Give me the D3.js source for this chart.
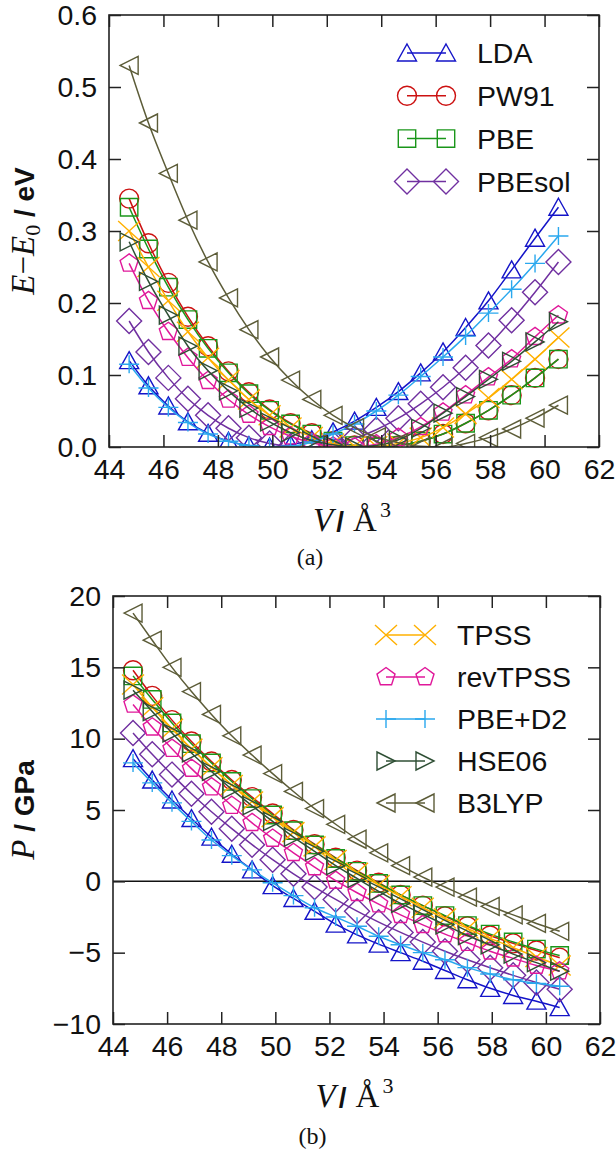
<!DOCTYPE html>
<html>
<head>
<meta charset="utf-8">
<script src="https://cdn.jsdelivr.net/npm/d3@7"></script>
<style>
    body { margin: 0; background: #fff; }
    svg text { font-family: "Liberation Sans", Arial, sans-serif; fill: #111; }
</style>
</head>
<body>
<svg id="chart" width="616" height="1155"></svg>
<script>
// volumes (A^3) shared by every method
const volumes = [44.74, 45.45, 46.18, 46.90, 47.64, 48.39, 49.14, 49.90, 50.67, 51.45, 52.23,
                 53.02, 53.82, 54.63, 55.45, 56.27, 57.10, 57.94, 58.79, 59.65, 60.51];

const methods = ['LDA', 'PW91', 'PBE', 'PBEsol', 'TPSS', 'revTPSS', 'PBE+D2', 'HSE06', 'B3LYP'];
const topLegend = ['LDA', 'PW91', 'PBE', 'PBEsol'];
const bottomLegend = ['TPSS', 'revTPSS', 'PBE+D2', 'HSE06', 'B3LYP'];

// E - E0 (eV)
const energyLDA     = [0.120, 0.085, 0.057, 0.035, 0.019, 0.008, 0.002, 0.000, 0.003, 0.010, 0.021, 0.036, 0.055, 0.077, 0.103, 0.132, 0.166, 0.203, 0.246, 0.290, 0.333];
const energyPW91    = [0.345, 0.283, 0.228, 0.181, 0.140, 0.105, 0.076, 0.052, 0.033, 0.019, 0.008, 0.002, 0.000, 0.002, 0.008, 0.018, 0.033, 0.051, 0.072, 0.096, 0.122];
const energyPBE     = [0.333, 0.275, 0.222, 0.177, 0.137, 0.103, 0.074, 0.051, 0.032, 0.018, 0.008, 0.002, 0.000, 0.002, 0.008, 0.018, 0.033, 0.051, 0.072, 0.096, 0.122];
const energyPBEsol  = [0.175, 0.132, 0.096, 0.067, 0.044, 0.026, 0.013, 0.005, 0.001, 0.000, 0.004, 0.012, 0.024, 0.040, 0.060, 0.083, 0.110, 0.141, 0.176, 0.215, 0.257];
const energyTPSS    = [0.300, 0.250, 0.203, 0.160, 0.124, 0.093, 0.066, 0.044, 0.027, 0.014, 0.005, 0.001, 0.001, 0.005, 0.013, 0.027, 0.046, 0.068, 0.094, 0.122, 0.152];
const energyRevTPSS = [0.255, 0.203, 0.160, 0.124, 0.092, 0.066, 0.045, 0.028, 0.015, 0.006, 0.001, 0.000, 0.004, 0.013, 0.028, 0.048, 0.072, 0.097, 0.122, 0.153, 0.183];
const energyPBED2   = [0.115, 0.082, 0.055, 0.034, 0.018, 0.008, 0.002, 0.000, 0.001, 0.007, 0.018, 0.032, 0.050, 0.072, 0.098, 0.125, 0.154, 0.186, 0.219, 0.255, 0.293];
const energyHSE06   = [0.285, 0.230, 0.183, 0.140, 0.106, 0.078, 0.054, 0.035, 0.020, 0.009, 0.003, 0.000, 0.002, 0.010, 0.026, 0.047, 0.070, 0.094, 0.119, 0.146, 0.174];
const energyB3LYP   = [0.530, 0.450, 0.380, 0.315, 0.257, 0.207, 0.163, 0.125, 0.093, 0.066, 0.044, 0.027, 0.014, 0.006, 0.001, 0.000, 0.005, 0.013, 0.025, 0.040, 0.058];

// P (GPa)
const pressureLDA     = [8.6, 7.1, 5.7, 4.4, 3.1, 1.9, 0.8, -0.3, -1.2, -2.1, -3.0, -3.75, -4.4, -5.0, -5.6, -6.25, -6.9, -7.5, -8.0, -8.4, -8.85];
const pressurePW91    = [14.8, 13.0, 11.3, 9.8, 8.4, 7.1, 5.9, 4.75, 3.6, 2.6, 1.65, 0.75, -0.1, -0.95, -1.7, -2.45, -3.15, -3.8, -4.35, -4.85, -5.35];
const pressurePBE     = [14.4, 12.75, 11.1, 9.65, 8.3, 7.0, 5.8, 4.65, 3.55, 2.55, 1.6, 0.7, -0.15, -0.95, -1.7, -2.4, -3.1, -3.7, -4.25, -4.75, -5.2];
const pressurePBEsol  = [10.4, 8.9, 7.48, 6.14, 4.88, 3.69, 2.57, 1.52, 0.53, -0.4, -1.27, -2.09, -2.86, -3.58, -4.26, -4.9, -5.5, -6.06, -6.59, -7.09, -7.56];
const pressureTPSS    = [13.8, 12.2, 10.7, 9.3, 8.0, 6.75, 5.6, 4.5, 3.45, 2.45, 1.5, 0.6, -0.25, -1.05, -1.85, -2.6, -3.3, -4.0, -4.65, -5.3, -5.9];
const pressureRevTPSS = [12.4, 10.8, 9.3, 7.9, 6.6, 5.3, 4.1, 3.0, 2.0, 1.0, 0.05, -0.8, -1.6, -2.35, -3.05, -3.7, -4.3, -4.9, -5.4, -5.9, -6.3];
const pressurePBED2   = [8.3, 6.9, 5.5, 4.2, 2.9, 1.8, 0.8, -0.1, -1.0, -1.85, -2.5, -3.15, -3.85, -4.45, -5.0, -5.5, -6.05, -6.5, -6.9, -7.15, -7.35];
const pressureHSE06   = [13.4, 11.9, 10.4, 9.0, 7.7, 6.45, 5.3, 4.2, 3.1, 2.1, 1.1, 0.2, -0.7, -1.55, -2.3, -3.05, -3.8, -4.45, -5.1, -5.7, -6.3];
const pressureB3LYP   = [18.8, 16.9, 15.0, 13.3, 11.7, 10.2, 8.85, 7.55, 6.3, 5.1, 4.0, 2.95, 2.0, 1.1, 0.3, -0.4, -1.1, -1.75, -2.35, -2.95, -3.5];

const xTicks = [44, 46, 48, 50, 52, 54, 56, 58, 60, 62];
const energyTicks = [0, 0.1, 0.2, 0.3, 0.4, 0.5, 0.6];
const pressureTicks = [-10, -5, 0, 5, 10, 15, 20];

const energyByMethod = [energyLDA, energyPW91, energyPBE, energyPBEsol, energyTPSS, energyRevTPSS, energyPBED2, energyHSE06, energyB3LYP];
const pressureByMethod = [pressureLDA, pressurePW91, pressurePBE, pressurePBEsol, pressureTPSS, pressureRevTPSS, pressurePBED2, pressureHSE06, pressureB3LYP];

// look of each method
const methodStyle = {
    'LDA':     {color: '#1414c8', symbol: 'triUp'},
    'PW91':    {color: '#cc1111', symbol: 'circle'},
    'PBE':     {color: '#1a961a', symbol: 'square'},
    'PBEsol':  {color: '#7030a0', symbol: 'diamond'},
    'TPSS':    {color: '#ffb000', symbol: 'cross'},
    'revTPSS': {color: '#e0189a', symbol: 'pentagon'},
    'PBE+D2':  {color: '#2aa8ee', symbol: 'plus'},
    'HSE06':   {color: '#2f4f35', symbol: 'triRight'},
    'B3LYP':   {color: '#5c5c38', symbol: 'triLeft'}
};

function symbolPath(kind) {
    switch (kind) {
        case 'triUp': return 'M0,-9L9.5,8L-9.5,8Z';
        case 'circle': return 'M9.5,0A9.5,9.5 0 1,1 -9.5,0A9.5,9.5 0 1,1 9.5,0Z';
        case 'square': return 'M-8.7,-8.7H8.7V8.7H-8.7Z';
        case 'diamond': return 'M0,-12.5L12.5,0L0,12.5L-12.5,0Z';
        case 'cross': return 'M-11,-10L11,10M-11,10L11,-10';
        case 'plus': return 'M-10,0H10M0,-9V9';
        case 'triRight': return 'M9,0L-9,-9L-9,9Z';
        case 'triLeft': return 'M-9,0L9,-9L9,9Z';
        case 'pentagon': {
            let p = d3.path();
            for (let k = 0; k < 5; k++) {
                let a = -Math.PI / 2 + k * 2 * Math.PI / 5;
                if (k == 0) p.moveTo(9.5 * Math.cos(a), 9.5 * Math.sin(a));
                else p.lineTo(9.5 * Math.cos(a), 9.5 * Math.sin(a));
            }
            p.closePath();
            return p.toString();
        }
    }
}

class EosPanel {
    constructor(_config, _data) {
        this.config = {
            parentElement: _config.parentElement,
            id: _config.id,
            left: _config.left,
            top: _config.top,
            width: _config.width,
            height: _config.height,
            yDomain: _config.yDomain,
            yTicks: _config.yTicks,
            yFormat: _config.yFormat,
            zeroLine: _config.zeroLine || false,
            legend: _config.legend,
            yLabel: _config.yLabel,
            xLabelY: _config.xLabelY,
            caption: _config.caption,
            captionY: _config.captionY
        }
        this.data = _data;

        this.InitVis();
    }

    InitVis() {
        let vis = this;

        vis.g = vis.config.parentElement.append('g')
            .attr('transform', `translate(${vis.config.left},${vis.config.top})`);

        vis.xScale = d3.scaleLinear().domain([44, 62]).range([0, vis.config.width]);
        vis.yScale = d3.scaleLinear().domain(vis.config.yDomain).range([vis.config.height, 0]);

        vis.g.append('clipPath').attr('id', vis.config.id)
            .append('rect')
            .attr('width', vis.config.width)
            .attr('height', vis.config.height);

        vis.plotArea = vis.g.append('g').attr('clip-path', `url(#${vis.config.id})`);
    }

    RenderVis() {
        let vis = this;
        let W = vis.config.width, H = vis.config.height;

        if (vis.config.zeroLine) {
            vis.plotArea.append('line')
                .attr('x1', 0).attr('x2', W)
                .attr('y1', vis.yScale(0)).attr('y2', vis.yScale(0))
                .attr('stroke', '#111').attr('stroke-width', 1.5);
        }

        let line = d3.line()
            .x(d => vis.xScale(d.v))
            .y(d => vis.yScale(d.value))
            .curve(d3.curveMonotoneX);

        //one group per method: line then its points
        let groups = vis.plotArea.selectAll('.series')
            .data(vis.data)
            .join('g')
                .attr('class', 'series');

        groups.append('path')
            .attr('d', d => line(d.points))
            .attr('fill', 'none')
            .attr('stroke', d => methodStyle[d.name].color)
            .attr('stroke-width', 1.5);

        groups.selectAll('.pt')
            .data(d => d.points.map(p => ({...p, name: d.name})))
            .join('path')
                .attr('class', 'pt')
                .attr('transform', d => `translate(${vis.xScale(d.v)},${vis.yScale(d.value)})`)
                .attr('d', d => symbolPath(methodStyle[d.name].symbol))
                .attr('fill', 'none')
                .attr('stroke', d => methodStyle[d.name].color)
                .attr('stroke-width', 1.4);

        // axes, ticks pointing inwards on all four sides
        let xBottom = vis.g.append('g').attr('transform', `translate(0,${H})`)
            .call(d3.axisBottom(vis.xScale).tickValues(xTicks).tickSize(-12).tickPadding(12).tickFormat(d3.format('d')));
        let xTop = vis.g.append('g')
            .call(d3.axisTop(vis.xScale).tickValues(xTicks).tickSize(-12).tickFormat(''));
        let yLeft = vis.g.append('g')
            .call(d3.axisLeft(vis.yScale).tickValues(vis.config.yTicks).tickSize(-12).tickPadding(12).tickFormat(vis.config.yFormat));
        let yRight = vis.g.append('g').attr('transform', `translate(${W},0)`)
            .call(d3.axisRight(vis.yScale).tickValues(vis.config.yTicks).tickSize(-12).tickFormat(''));

        [xBottom, xTop, yLeft, yRight].forEach(a => {
            a.select('.domain').remove();
            a.selectAll('.tick line').attr('stroke', '#222').attr('stroke-width', 1.5);
            a.selectAll('.tick text')
                .style('font-family', '"Liberation Sans", Arial, sans-serif')
                .style('font-size', '28.5px')
                .attr('fill', '#111');
        });

        vis.g.append('rect')
            .attr('width', W).attr('height', H)
            .attr('fill', 'none')
            .attr('stroke', '#222')
            .attr('stroke-width', 1.6);

        vis.RenderLegend();
        vis.RenderLabels();
    }

    RenderLegend() {
        let vis = this;
        let lg = vis.config.legend;

        let rows = vis.config.parentElement.append('g')
            .selectAll('g')
            .data(lg.names)
            .join('g')
                .attr('transform', (d, i) => `translate(0,${lg.y + i * lg.step})`);

        rows.append('line')
            .attr('x1', lg.x).attr('x2', lg.x + lg.gap)
            .attr('stroke', d => methodStyle[d].color)
            .attr('stroke-width', 1.5);

        [0, lg.gap].forEach(off => {
            rows.append('path')
                .attr('transform', `translate(${lg.x + off},0)`)
                .attr('d', d => symbolPath(methodStyle[d].symbol))
                .attr('fill', 'none')
                .attr('stroke', d => methodStyle[d].color)
                .attr('stroke-width', 1.4);
        });

        rows.append('text')
            .attr('x', lg.textX)
            .attr('dy', '0.36em')
            .style('font-size', '28.5px')
            .text(d => d);
    }

    RenderLabels() {
        let vis = this;
        let svg = vis.config.parentElement;
        let cx = vis.config.left + vis.config.width / 2;
        let cy = vis.config.top + vis.config.height / 2;

        // V / Å^3
        let xl = svg.append('text')
            .attr('x', cx - 2).attr('y', vis.config.xLabelY)
            .attr('text-anchor', 'middle');
        xl.append('tspan').text('V')
            .style('font-family', '"Liberation Serif", serif').style('font-style', 'italic').style('font-size', '33px');
        xl.append('tspan').text('/').attr('dx', 3)
            .style('font-weight', 'bold').style('font-size', '28px');
        xl.append('tspan').text('Å').attr('dx', 9)
            .style('font-family', '"Liberation Serif", serif').style('font-size', '33px');
        xl.append('tspan').text('3').attr('dx', 3).attr('dy', -14)
            .style('font-family', '"Liberation Serif", serif').style('font-size', '22px');

        let yl = svg.append('g')
            .attr('transform', `translate(34,${cy}) rotate(-90)`)
            .append('text')
            .attr('text-anchor', 'middle');
        vis.config.yLabel(yl);

        svg.append('text')
            .attr('x', cx - 44).attr('y', vis.config.captionY)
            .attr('text-anchor', 'middle')
            .style('font-family', '"Liberation Serif", serif')
            .style('font-size', '24px')
            .text(vis.config.caption);
    }
}

function buildSeries(values) {
    return methods.map((name, i) => ({
        name: name,
        points: volumes.map((v, j) => ({v: v, value: values[i][j]}))
    }));
}

const svg = d3.select('#chart');

const energyPanel = new EosPanel({
    parentElement: svg,
    id: 'clipE',
    left: 109, top: 15, width: 490, height: 432,
    yDomain: [0, 0.6],
    yTicks: energyTicks,
    yFormat: d3.format('.1f'),
    legend: {names: topLegend, x: 407, gap: 39, textX: 477, y: 53, step: 42.8},
    yLabel: t => {
        t.append('tspan').text('E').style('font-family', '"Liberation Serif", serif').style('font-style', 'italic').style('font-size', '33px');
        t.append('tspan').text('−').style('font-family', '"Liberation Serif", serif').style('font-size', '33px');
        t.append('tspan').text('E').style('font-family', '"Liberation Serif", serif').style('font-style', 'italic').style('font-size', '33px');
        t.append('tspan').text('0').attr('dy', 6).style('font-family', '"Liberation Serif", serif').style('font-size', '22px');
        t.append('tspan').text(' / eV').attr('dy', -6).style('font-weight', 'bold').style('font-size', '28px');
    },
    xLabelY: 531,
    caption: '(a)',
    captionY: 565
}, buildSeries(energyByMethod));
energyPanel.RenderVis();

const pressurePanel = new EosPanel({
    parentElement: svg,
    id: 'clipP',
    left: 113, top: 596, width: 487, height: 428,
    yDomain: [-10, 20],
    yTicks: pressureTicks,
    yFormat: d3.format('d'),
    zeroLine: true,
    legend: {names: bottomLegend, x: 386, gap: 39, textX: 457, y: 635, step: 42},
    yLabel: t => {
        t.append('tspan').text('P').style('font-family', '"Liberation Serif", serif').style('font-style', 'italic').style('font-size', '33px');
        t.append('tspan').text(' / GPa').style('font-weight', 'bold').style('font-size', '28px');
    },
    xLabelY: 1107,
    caption: '(b)',
    captionY: 1144
}, buildSeries(pressureByMethod));
pressurePanel.RenderVis();
</script>
</body>
</html>
